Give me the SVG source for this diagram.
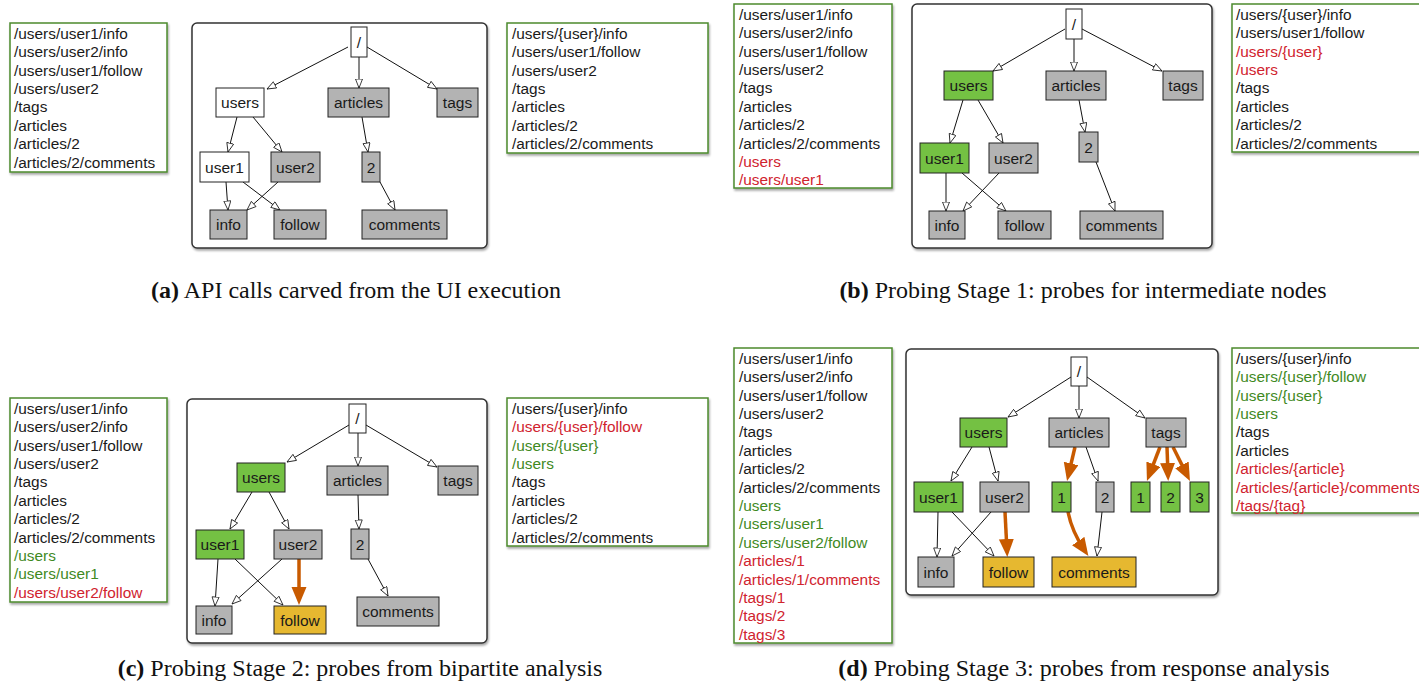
<svg xmlns="http://www.w3.org/2000/svg" width="1419" height="685" viewBox="0 0 1419 685">
<style>
.list{fill:#fff;stroke:#4c8a2e;stroke-width:1.5;filter:url(#sh)}
.tree{fill:#fff;stroke:#333;stroke-width:1.5;filter:url(#sh)}
.lt{font-family:"Liberation Sans",Arial,sans-serif;font-size:15.4px;fill:#1a1a1a}
.lt .r{fill:#d0232e}
.lt .g{fill:#3f8a1f}
.n rect{stroke:#222;stroke-width:1}
.w rect{fill:#fff}
.gy rect{fill:#b3b3b3}
.gn rect{fill:#74c143}
.yl rect{fill:#e6b830}
.n text{font-family:"Liberation Sans",Arial,sans-serif;font-size:15.5px;fill:#1a1a1a;text-anchor:middle}
.e{fill:none;stroke:#111;stroke-width:1;marker-end:url(#open)}
.o{fill:none;stroke:#c85a00;stroke-width:3.5;marker-end:url(#thick)}
.cap{font-family:"Liberation Serif","Times New Roman",serif;font-size:24px;fill:#111;text-anchor:middle}
</style>
<defs>
<filter id="sh" x="-5%" y="-5%" width="110%" height="115%">
<feDropShadow dx="1" dy="2" stdDeviation="1.2" flood-color="#000" flood-opacity="0.35"/>
</filter>
<marker id="open" markerUnits="userSpaceOnUse" markerWidth="11" markerHeight="9" refX="9.5" refY="4" orient="auto">
<path d="M0.5,0.5 L9.5,4 L0.5,7.5 Z" fill="#fff" stroke="#111" stroke-width="0.8"/>
</marker>
<marker id="thick" markerUnits="userSpaceOnUse" markerWidth="20" markerHeight="16" refX="12" refY="7.5" orient="auto">
<path d="M0,0 L18,7.5 L0,15 Z" fill="#c85a00"/>
</marker>
</defs>
<rect width="1419" height="685" fill="#fff"/>

<!-- ===== Panel (a) ===== -->
<g id="panel-a">
<g id="a-list-in">
<rect class="list" x="10" y="23" width="157" height="149"/>
<text class="lt" x="14" y="38.8"><tspan x="14" dy="0">/users/user1/info</tspan><tspan x="14" dy="18.4">/users/user2/info</tspan><tspan x="14" dy="18.4">/users/user1/follow</tspan><tspan x="14" dy="18.4">/users/user2</tspan><tspan x="14" dy="18.4">/tags</tspan><tspan x="14" dy="18.4">/articles</tspan><tspan x="14" dy="18.4">/articles/2</tspan><tspan x="14" dy="18.4">/articles/2/comments</tspan></text>
</g>
<rect class="tree" x="192" y="23" width="295" height="225" rx="5"/>
<g id="a-connectors">
<path class="e" d="M348,47 L267,89"/>
<path class="e" d="M359,57 L359,88"/>
<path class="e" d="M367,47 L437,89"/>
<path class="e" d="M237,117 L228,152"/>
<path class="e" d="M253,117 L282,152"/>
<path class="e" d="M362,117 L368,152"/>
<path class="e" d="M226,182 L228,210"/>
<path class="e" d="M243,182 L280,210"/>
<path class="e" d="M278,182 L247,210"/>
<path class="e" d="M380,182 L395,210"/>
</g>
<g id="a-root" class="n w"><rect x="351" y="27" width="16" height="30"/><text x="359" y="47.5">/</text></g>
<g id="a-users" class="n w"><rect x="216" y="88" width="48" height="29"/><text x="240" y="108">users</text></g>
<g id="a-articles" class="n gy"><rect x="328" y="88" width="61" height="29"/><text x="358.5" y="108">articles</text></g>
<g id="a-tags" class="n gy"><rect x="437" y="88" width="41" height="29"/><text x="457.5" y="108">tags</text></g>
<g id="a-user1" class="n w"><rect x="200" y="152" width="49" height="30"/><text x="224.5" y="172.5">user1</text></g>
<g id="a-user2" class="n gy"><rect x="271" y="152" width="49" height="30"/><text x="295.5" y="172.5">user2</text></g>
<g id="a-2" class="n gy"><rect x="362" y="152" width="18" height="30"/><text x="371" y="172.5">2</text></g>
<g id="a-info" class="n gy"><rect x="210" y="210" width="37" height="29"/><text x="228.5" y="230">info</text></g>
<g id="a-follow" class="n gy"><rect x="274" y="210" width="52" height="29"/><text x="300" y="230">follow</text></g>
<g id="a-comments" class="n gy"><rect x="362" y="210" width="85" height="29"/><text x="404.5" y="230">comments</text></g>
<g id="a-list-out">
<rect class="list" x="507" y="23" width="201" height="130"/>
<text class="lt" x="512" y="38.8"><tspan x="512" dy="0">/users/{user}/info</tspan><tspan x="512" dy="18.4">/users/user1/follow</tspan><tspan x="512" dy="18.4">/users/user2</tspan><tspan x="512" dy="18.4">/tags</tspan><tspan x="512" dy="18.4">/articles</tspan><tspan x="512" dy="18.4">/articles/2</tspan><tspan x="512" dy="18.4">/articles/2/comments</tspan></text>
</g>
<text class="cap" x="356" y="298"><tspan font-weight="bold">(a)</tspan> API calls carved from the UI execution</text>
</g>

<!-- ===== Panel (b) ===== -->
<g id="panel-b">
<g id="b-list-in">
<rect class="list" x="734" y="4" width="158" height="184"/>
<text class="lt" x="739" y="19.8"><tspan x="739" dy="0">/users/user1/info</tspan><tspan x="739" dy="18.4">/users/user2/info</tspan><tspan x="739" dy="18.4">/users/user1/follow</tspan><tspan x="739" dy="18.4">/users/user2</tspan><tspan x="739" dy="18.4">/tags</tspan><tspan x="739" dy="18.4">/articles</tspan><tspan x="739" dy="18.4">/articles/2</tspan><tspan x="739" dy="18.4">/articles/2/comments</tspan><tspan x="739" dy="18.4" class="r">/users</tspan><tspan x="739" dy="18.4" class="r">/users/user1</tspan></text>
</g>
<rect class="tree" x="912" y="4" width="300" height="244" rx="5"/>
<g id="b-connectors">
<path class="e" d="M1065,29 L993,71"/>
<path class="e" d="M1074,39 L1074,71"/>
<path class="e" d="M1082,29 L1162,71"/>
<path class="e" d="M963,100 L950,143"/>
<path class="e" d="M978,100 L1003,143"/>
<path class="e" d="M1079,100 L1085,132"/>
<path class="e" d="M946,173 L946,211"/>
<path class="e" d="M962,173 L1006,211"/>
<path class="e" d="M999,173 L963,211"/>
<path class="e" d="M1096,162 L1115,211"/>
</g>
<g id="b-root" class="n w"><rect x="1066" y="9" width="16" height="30"/><text x="1074" y="29.5">/</text></g>
<g id="b-users" class="n gn"><rect x="944" y="71" width="49" height="29"/><text x="968.5" y="91">users</text></g>
<g id="b-articles" class="n gy"><rect x="1046" y="71" width="60" height="29"/><text x="1076" y="91">articles</text></g>
<g id="b-tags" class="n gy"><rect x="1163" y="71" width="40" height="29"/><text x="1183" y="91">tags</text></g>
<g id="b-user1" class="n gn"><rect x="920" y="143" width="49" height="30"/><text x="944.5" y="163.5">user1</text></g>
<g id="b-user2" class="n gy"><rect x="989" y="143" width="49" height="30"/><text x="1013.5" y="163.5">user2</text></g>
<g id="b-2" class="n gy"><rect x="1079" y="132" width="19" height="30"/><text x="1088.5" y="152.5">2</text></g>
<g id="b-info" class="n gy"><rect x="929" y="211" width="36" height="28"/><text x="947" y="230.5">info</text></g>
<g id="b-follow" class="n gy"><rect x="998" y="211" width="53" height="28"/><text x="1024.5" y="230.5">follow</text></g>
<g id="b-comments" class="n gy"><rect x="1080" y="211" width="83" height="28"/><text x="1121.5" y="230.5">comments</text></g>
<g id="b-list-out">
<rect class="list" x="1232" y="4" width="200" height="148"/>
<text class="lt" x="1236" y="19.8"><tspan x="1236" dy="0">/users/{user}/info</tspan><tspan x="1236" dy="18.4">/users/user1/follow</tspan><tspan x="1236" dy="18.4" class="r">/users/{user}</tspan><tspan x="1236" dy="18.4" class="r">/users</tspan><tspan x="1236" dy="18.4">/tags</tspan><tspan x="1236" dy="18.4">/articles</tspan><tspan x="1236" dy="18.4">/articles/2</tspan><tspan x="1236" dy="18.4">/articles/2/comments</tspan></text>
</g>
<text class="cap" x="1083" y="298"><tspan font-weight="bold">(b)</tspan> Probing Stage 1: probes for intermediate nodes</text>
</g>

<!-- ===== Panel (c) ===== -->
<g id="panel-c">
<g id="c-list-in">
<rect class="list" x="10" y="398" width="157" height="204"/>
<text class="lt" x="14" y="413.8"><tspan x="14" dy="0">/users/user1/info</tspan><tspan x="14" dy="18.4">/users/user2/info</tspan><tspan x="14" dy="18.4">/users/user1/follow</tspan><tspan x="14" dy="18.4">/users/user2</tspan><tspan x="14" dy="18.4">/tags</tspan><tspan x="14" dy="18.4">/articles</tspan><tspan x="14" dy="18.4">/articles/2</tspan><tspan x="14" dy="18.4">/articles/2/comments</tspan><tspan x="14" dy="18.4" class="g">/users</tspan><tspan x="14" dy="18.4" class="g">/users/user1</tspan><tspan x="14" dy="18.4" class="r">/users/user2/follow</tspan></text>
</g>
<rect class="tree" x="187" y="399" width="300" height="244" rx="5"/>
<g id="c-connectors">
<path class="e" d="M349,425 L287,462"/>
<path class="e" d="M358,433 L358,466"/>
<path class="e" d="M366,425 L437,467"/>
<path class="e" d="M252,492 L230,529"/>
<path class="e" d="M269,492 L289,529"/>
<path class="e" d="M358,495 L359,529"/>
<path class="e" d="M218,559 L215,606"/>
<path class="e" d="M235,559 L283,605"/>
<path class="e" d="M282,559 L232,604"/>
<path class="e" d="M368,559 L388,596"/>
<path class="o" d="M299,559 L299,599"/>
</g>
<g id="c-root" class="n w"><rect x="349" y="404" width="17" height="29"/><text x="357.5" y="424">/</text></g>
<g id="c-users" class="n gn"><rect x="237" y="463" width="48" height="29"/><text x="261" y="483">users</text></g>
<g id="c-articles" class="n gy"><rect x="327" y="466" width="61" height="29"/><text x="357.5" y="486">articles</text></g>
<g id="c-tags" class="n gy"><rect x="438" y="466" width="40" height="29"/><text x="458" y="486">tags</text></g>
<g id="c-user1" class="n gn"><rect x="196" y="530" width="48" height="29"/><text x="220" y="550">user1</text></g>
<g id="c-user2" class="n gy"><rect x="274" y="530" width="48" height="29"/><text x="298" y="550">user2</text></g>
<g id="c-2" class="n gy"><rect x="351" y="529" width="18" height="30"/><text x="360" y="549.5">2</text></g>
<g id="c-info" class="n gy"><rect x="196" y="606" width="36" height="28"/><text x="214" y="625.5">info</text></g>
<g id="c-follow" class="n yl"><rect x="274" y="606" width="52" height="28"/><text x="300" y="625.5">follow</text></g>
<g id="c-comments" class="n gy"><rect x="357" y="597" width="82" height="29"/><text x="398" y="617">comments</text></g>
<g id="c-list-out">
<rect class="list" x="507" y="398" width="201" height="148"/>
<text class="lt" x="512" y="413.8"><tspan x="512" dy="0">/users/{user}/info</tspan><tspan x="512" dy="18.4" class="r">/users/{user}/follow</tspan><tspan x="512" dy="18.4" class="g">/users/{user}</tspan><tspan x="512" dy="18.4" class="g">/users</tspan><tspan x="512" dy="18.4">/tags</tspan><tspan x="512" dy="18.4">/articles</tspan><tspan x="512" dy="18.4">/articles/2</tspan><tspan x="512" dy="18.4">/articles/2/comments</tspan></text>
</g>
<text class="cap" x="360" y="676"><tspan font-weight="bold">(c)</tspan> Probing Stage 2: probes from bipartite analysis</text>
</g>

<!-- ===== Panel (d) ===== -->
<g id="panel-d">
<g id="d-list-in">
<rect class="list" x="734" y="348" width="158" height="295"/>
<text class="lt" x="739" y="363.8"><tspan x="739" dy="0">/users/user1/info</tspan><tspan x="739" dy="18.4">/users/user2/info</tspan><tspan x="739" dy="18.4">/users/user1/follow</tspan><tspan x="739" dy="18.4">/users/user2</tspan><tspan x="739" dy="18.4">/tags</tspan><tspan x="739" dy="18.4">/articles</tspan><tspan x="739" dy="18.4">/articles/2</tspan><tspan x="739" dy="18.4">/articles/2/comments</tspan><tspan x="739" dy="18.4" class="g">/users</tspan><tspan x="739" dy="18.4" class="g">/users/user1</tspan><tspan x="739" dy="18.4" class="g">/users/user2/follow</tspan><tspan x="739" dy="18.4" class="r">/articles/1</tspan><tspan x="739" dy="18.4" class="r">/articles/1/comments</tspan><tspan x="739" dy="18.4" class="r">/tags/1</tspan><tspan x="739" dy="18.4" class="r">/tags/2</tspan><tspan x="739" dy="18.4" class="r">/tags/3</tspan></text>
</g>
<rect class="tree" x="906" y="349" width="312" height="246" rx="5"/>
<g id="d-connectors">
<path class="e" d="M1071,377 L1008,417"/>
<path class="e" d="M1079,386 L1079,418"/>
<path class="e" d="M1087,377 L1145,418"/>
<path class="e" d="M972,447 L951,481"/>
<path class="e" d="M989,447 L998,481"/>
<path class="e" d="M1086,447 L1098,481"/>
<path class="e" d="M938,512 L937,557"/>
<path class="e" d="M952,512 L994,556"/>
<path class="e" d="M991,512 L952,556"/>
<path class="e" d="M1102,512 L1097,556"/>
<path class="o" d="M1075,447 L1068.4,475.2"/>
<path class="o" d="M1160,447 L1149.1,475.4"/>
<path class="o" d="M1167,447 L1168,475"/>
<path class="o" d="M1173,447 L1187.3,475.6"/>
<path class="o" d="M1005,512 L1007,551"/>
<path class="o" d="M1068,512 Q1072,532 1085,551"/>
</g>
<g id="d-root" class="n w"><rect x="1071" y="357" width="16" height="29"/><text x="1079" y="377">/</text></g>
<g id="d-users" class="n gn"><rect x="960" y="418" width="47" height="29"/><text x="983.5" y="438">users</text></g>
<g id="d-articles" class="n gy"><rect x="1049" y="418" width="60" height="29"/><text x="1079" y="438">articles</text></g>
<g id="d-tags" class="n gy"><rect x="1146" y="418" width="40" height="29"/><text x="1166" y="438">tags</text></g>
<g id="d-user1" class="n gn"><rect x="914" y="482" width="49" height="30"/><text x="938.5" y="502.5">user1</text></g>
<g id="d-user2" class="n gy"><rect x="980" y="482" width="49" height="30"/><text x="1004.5" y="502.5">user2</text></g>
<g id="d-article1" class="n gn"><rect x="1052" y="482" width="19" height="30"/><text x="1061.5" y="502.5">1</text></g>
<g id="d-article2" class="n gy"><rect x="1096" y="482" width="18" height="30"/><text x="1105" y="502.5">2</text></g>
<g id="d-tag1" class="n gn"><rect x="1131" y="482" width="19" height="30"/><text x="1140.5" y="502.5">1</text></g>
<g id="d-tag2" class="n gn"><rect x="1161" y="482" width="19" height="30"/><text x="1170.5" y="502.5">2</text></g>
<g id="d-tag3" class="n gn"><rect x="1190" y="482" width="19" height="30"/><text x="1199.5" y="502.5">3</text></g>
<g id="d-info" class="n gy"><rect x="918" y="557" width="36" height="30"/><text x="936" y="577.5">info</text></g>
<g id="d-follow" class="n yl"><rect x="983" y="557" width="51" height="30"/><text x="1008.5" y="577.5">follow</text></g>
<g id="d-comments" class="n yl"><rect x="1052" y="557" width="84" height="30"/><text x="1094" y="577.5">comments</text></g>
<g id="d-list-out">
<rect class="list" x="1232" y="348" width="200" height="165"/>
<text class="lt" x="1236" y="363.8"><tspan x="1236" dy="0">/users/{user}/info</tspan><tspan x="1236" dy="18.4" class="g">/users/{user}/follow</tspan><tspan x="1236" dy="18.4" class="g">/users/{user}</tspan><tspan x="1236" dy="18.4" class="g">/users</tspan><tspan x="1236" dy="18.4">/tags</tspan><tspan x="1236" dy="18.4">/articles</tspan><tspan x="1236" dy="18.4" class="r">/articles/{article}</tspan><tspan x="1236" dy="18.4" class="r">/articles/{article}/comments</tspan><tspan x="1236" dy="18.4" class="r">/tags/{tag}</tspan></text>
</g>
<text class="cap" x="1084" y="676"><tspan font-weight="bold">(d)</tspan> Probing Stage 3: probes from response analysis</text>
</g>
</svg>
